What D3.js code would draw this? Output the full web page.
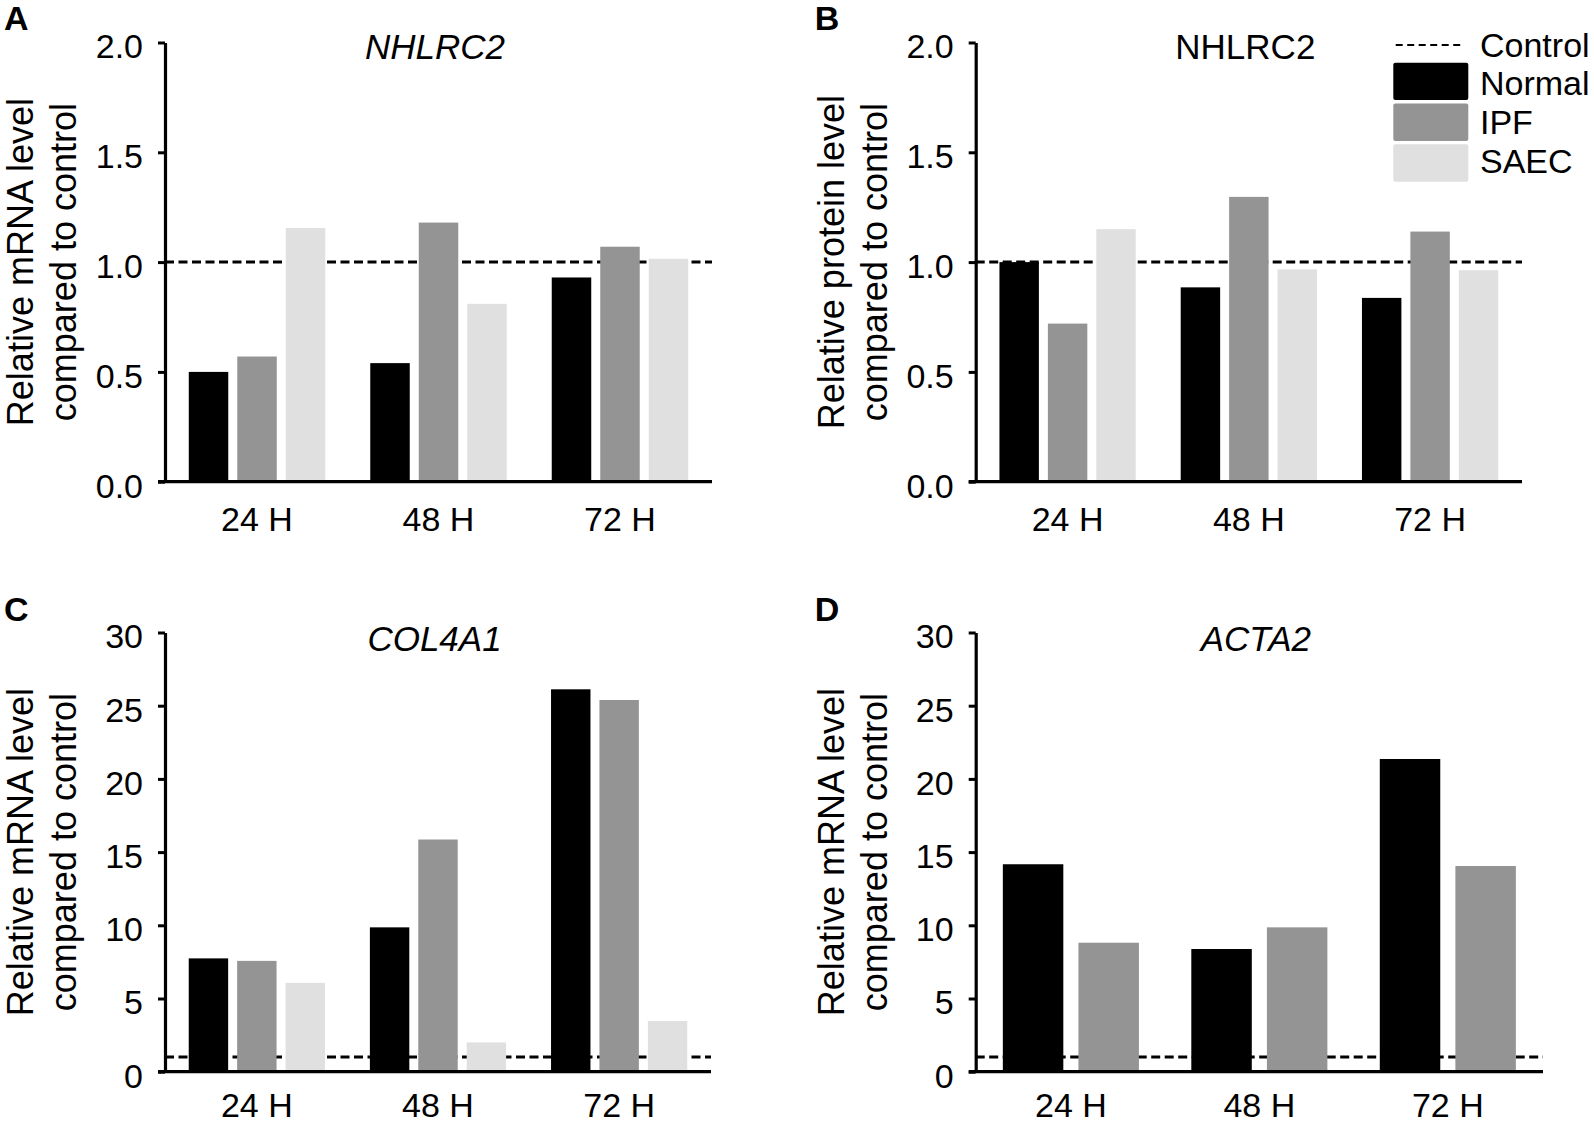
<!DOCTYPE html>
<html>
<head>
<meta charset="utf-8">
<script src="https://cdn.jsdelivr.net/npm/d3@7"></script>
<style>
  html, body { margin: 0; padding: 0; background: #fff; }
  svg { display: block; font-family: "Liberation Sans", Arial, sans-serif; }
</style>
</head>
<body>
<svg id="chart" width="1593" height="1124"></svg>
<script>
// ---------- data ----------
const timepoints = ["24 H", "48 H", "72 H"];
const seriesNames = ["Normal", "IPF", "SAEC"];

// A: NHLRC2 mRNA
const nhlrc2MrnaNormal = [0.50, 0.54, 0.93];
const nhlrc2MrnaIPF    = [0.57, 1.18, 1.07];
const nhlrc2MrnaSAEC   = [1.155, 0.81, 1.015];

// B: NHLRC2 protein
const nhlrc2ProtNormal = [1.00, 0.885, 0.837];
const nhlrc2ProtIPF    = [0.72, 1.297, 1.139];
const nhlrc2ProtSAEC   = [1.15, 0.967, 0.963];

// C: COL4A1 mRNA
const col4a1Normal = [7.74, 9.86, 26.12];
const col4a1IPF    = [7.57, 15.86, 25.39];
const col4a1SAEC   = [6.07, 2.0, 3.46];

// D: ACTA2 mRNA
const acta2Normal = [14.17, 8.38, 21.36];
const acta2IPF    = [8.81, 9.86, 14.05];

const controlLevel = 1;
const ticksSmall = [0, 0.5, 1.0, 1.5, 2.0];
const ticksLarge = [0, 5, 10, 15, 20, 25, 30];

const colors = { Normal: "#000000", IPF: "#949494", SAEC: "#e0e0e0" };

// ---------- panels ----------
const panels = [
  { letter: "A", title: "NHLRC2", italic: true, yLab: ["Relative mRNA level", "compared to control"],
    series: { Normal: nhlrc2MrnaNormal, IPF: nhlrc2MrnaIPF, SAEC: nhlrc2MrnaSAEC },
    yMax: 2, ticks: ticksSmall, fmt: d3.format(".1f"),
    x0: 165, x1: 712, yTop: 42.5, yBot: 481.7, outer: 0.131, inner: 0.248, barPad: 0.1856,
    letterY: 30, titleY: 58.5, xPad: 25, legend: false },
  { letter: "B", title: "NHLRC2", italic: false, yLab: ["Relative protein level", "compared to control"],
    series: { Normal: nhlrc2ProtNormal, IPF: nhlrc2ProtIPF, SAEC: nhlrc2ProtSAEC },
    yMax: 2, ticks: ticksSmall, fmt: d3.format(".1f"),
    x0: 975.7, x1: 1522, yTop: 42.5, yBot: 481.7, outer: 0.131, inner: 0.248, barPad: 0.1856,
    letterY: 30, titleY: 58.5, xPad: 25, legend: true },
  { letter: "C", title: "COL4A1", italic: true, yLab: ["Relative mRNA level", "compared to control"],
    series: { Normal: col4a1Normal, IPF: col4a1IPF, SAEC: col4a1SAEC },
    yMax: 30, ticks: ticksLarge, fmt: d3.format("d"),
    x0: 165, x1: 711, yTop: 632.5, yBot: 1071.7, outer: 0.131, inner: 0.248, barPad: 0.1856,
    letterY: 621, titleY: 651, xPad: 21, legend: false },
  { letter: "D", title: "ACTA2", italic: true, yLab: ["Relative mRNA level", "compared to control"],
    series: { Normal: acta2Normal, IPF: acta2IPF },
    yMax: 30, ticks: ticksLarge, fmt: d3.format("d"),
    x0: 975.7, x1: 1543, yTop: 632.5, yBot: 1071.7, outer: 0.144, inner: 0.278, barPad: 0.2,
    letterY: 621, titleY: 651, xPad: 21, legend: false }
];

const svg = d3.select("#chart");

panels.forEach(p => {
  const g = svg.append("g");
  const names = Object.keys(p.series);
  const y = d3.scaleLinear().domain([0, p.yMax]).range([p.yBot, p.yTop]);
  const x = d3.scaleBand().domain(timepoints).range([p.x0, p.x1])
    .paddingInner(p.inner).paddingOuter(p.outer);
  const xs = d3.scaleBand().domain(names).range([0, x.bandwidth()])
    .paddingInner(p.barPad).paddingOuter(0);

  // control dashed line (behind bars)
  g.append("line")
    .attr("x1", p.x0).attr("x2", p.x1)
    .attr("y1", y(controlLevel)).attr("y2", y(controlLevel))
    .attr("stroke", "#000").attr("stroke-width", 3)
    .attr("stroke-dasharray", "9,4.5");

  // bars
  names.forEach(name => {
    g.append("g").selectAll("rect")
      .data(p.series[name].map((v, i) => ({ t: timepoints[i], v })))
      .join("rect")
      .attr("x", d => x(d.t) + xs(name))
      .attr("width", xs.bandwidth())
      .attr("y", d => y(d.v))
      .attr("height", d => y(0) - y(d.v))
      .attr("fill", colors[name]);
  });

  // y axis
  const yAxis = g.append("g")
    .attr("transform", `translate(${p.x0},0)`)
    .call(d3.axisLeft(y).tickValues(p.ticks).tickFormat(p.fmt)
      .tickSize(7).tickSizeOuter(0).tickPadding(15));
  yAxis.select(".domain").attr("stroke-width", 3.2);
  yAxis.selectAll(".tick line").attr("stroke-width", 3);
  yAxis.selectAll(".tick text").attr("font-size", 34).attr("fill", "#000")
    .attr("font-family", '"Liberation Sans", Arial, sans-serif').attr("dy", "0.45em");

  // x axis
  g.append("line")
    .attr("x1", p.x0 - 7).attr("x2", p.x1)
    .attr("y1", p.yBot).attr("y2", p.yBot)
    .attr("stroke", "#000").attr("stroke-width", 3.2);
  const xAxis = g.append("g")
    .attr("transform", `translate(0,${p.yBot})`)
    .call(d3.axisBottom(x).tickSize(0).tickPadding(p.xPad));
  xAxis.select(".domain").remove();
  xAxis.selectAll(".tick text").attr("font-size", 34).attr("fill", "#000")
    .attr("font-family", '"Liberation Sans", Arial, sans-serif');

  // title
  g.append("text")
    .attr("x", (p.x0 - 7 + p.x1) / 2).attr("y", p.titleY)
    .attr("text-anchor", "middle").attr("font-size", 35)
    .attr("font-style", p.italic ? "italic" : "normal")
    .text(p.title);

  // y-axis label (two lines)
  const cy = (p.yTop + p.yBot) / 2;
  [p.x0 - 132, p.x0 - 89].forEach((bx, i) => {
    g.append("text")
      .attr("transform", `translate(${bx},${cy}) rotate(-90)`)
      .attr("text-anchor", "middle").attr("font-size", 36)
      .text(p.yLab[i]);
  });

  // panel letter
  g.append("text")
    .attr("x", p.x0 - 161).attr("y", p.letterY)
    .attr("font-size", 34).attr("font-weight", "bold")
    .text(p.letter);

  // legend
  if (p.legend) {
    const lg = svg.append("g");
    lg.append("line")
      .attr("x1", 1395.7).attr("x2", 1463.3).attr("y1", 45).attr("y2", 45)
      .attr("stroke", "#000").attr("stroke-width", 2).attr("stroke-dasharray", "7,4.5");
    lg.append("text").attr("x", 1480).attr("y", 56.7).attr("font-size", 34).text("Control");
    seriesNames.forEach((name, i) => {
      lg.append("rect")
        .attr("x", 1393.3).attr("y", 62.7 + i * 40.8)
        .attr("width", 75).attr("height", 37.4).attr("rx", 2)
        .attr("fill", colors[name]);
      lg.append("text").attr("x", 1480).attr("y", 95 + i * 39.2)
        .attr("font-size", 34).text(name);
    });
  }
});
</script>
</body>
</html>
